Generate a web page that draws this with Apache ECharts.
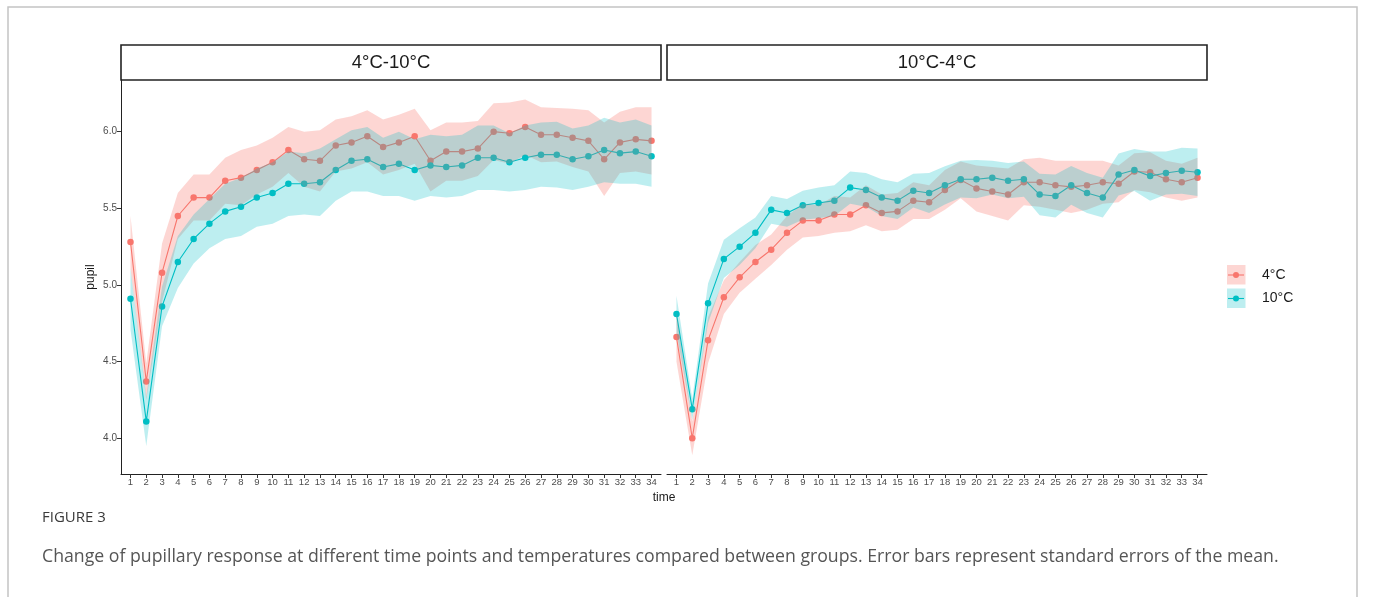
<!DOCTYPE html>
<html>
<head>
<meta charset="utf-8">
<title>Figure 3 - pupil</title>
<script src="https://cdn.jsdelivr.net/npm/echarts@6/dist/echarts.min.js"></script>
<style>
  html, body { margin: 0; padding: 0; background: #fff; }
  #chart { width: 1375px; height: 597px; }
</style>
</head>
<body>
<div id="chart"></div>
<script>
// time points (same for both panels)
const times = [1, 2, 3, 4, 5, 6, 7, 8, 9, 10, 11, 12, 13, 14, 15, 16, 17, 18, 19, 20,
  21, 22, 23, 24, 25, 26, 27, 28, 29, 30, 31, 32, 33, 34];
const panels = ['4°C-10°C', '10°C-4°C'];
const groups = ['4°C', '10°C'];
const yTicks = [4.0, 4.5, 5.0, 5.5, 6.0];

// panel 4°C-10°C
const leftMean4 = [5.28, 4.37, 5.08, 5.45, 5.57, 5.57, 5.68, 5.70, 5.75, 5.80, 5.88, 5.82, 5.81, 5.91, 5.93, 5.97, 5.90,
  5.93, 5.97, 5.81, 5.87, 5.87, 5.89, 6.00, 5.99, 6.03, 5.98, 5.98, 5.96, 5.94, 5.82, 5.93, 5.95, 5.94];
const leftSe4 = [0.17, 0.12, 0.19, 0.15, 0.15, 0.15, 0.15, 0.18, 0.16, 0.16, 0.15, 0.18, 0.20, 0.17, 0.17, 0.17, 0.18,
  0.18, 0.18, 0.20, 0.19, 0.19, 0.18, 0.185, 0.20, 0.18, 0.18, 0.175, 0.19, 0.20, 0.24, 0.20, 0.21, 0.22];
const leftMean10 = [4.91, 4.11, 4.86, 5.15, 5.30, 5.40, 5.48, 5.51, 5.57, 5.60, 5.66, 5.66, 5.67, 5.75, 5.81, 5.82, 5.77,
  5.79, 5.75, 5.78, 5.77, 5.78, 5.83, 5.83, 5.80, 5.83, 5.85, 5.85, 5.82, 5.84, 5.88, 5.86, 5.87, 5.84];
const leftSe10 = [0.20, 0.16, 0.13, 0.17, 0.16, 0.16, 0.18, 0.19, 0.19, 0.20, 0.21, 0.20, 0.22, 0.20, 0.20, 0.21, 0.19,
  0.21, 0.20, 0.20, 0.20, 0.20, 0.21, 0.21, 0.19, 0.21, 0.21, 0.215, 0.20, 0.20, 0.21, 0.20, 0.21, 0.20];

// panel 10°C-4°C
const rightMean4 = [4.66, 4.00, 4.64, 4.92, 5.05, 5.15, 5.23, 5.34, 5.42, 5.42, 5.46, 5.46, 5.52, 5.47, 5.48, 5.55, 5.54,
  5.62, 5.685, 5.63, 5.61, 5.59, 5.67, 5.67, 5.65, 5.64, 5.65, 5.67, 5.66, 5.74, 5.735, 5.69, 5.67, 5.70];
const rightSe4 = [0.16, 0.11, 0.15, 0.11, 0.10, 0.11, 0.10, 0.11, 0.11, 0.10, 0.12, 0.11, 0.13, 0.12, 0.12, 0.12, 0.11,
  0.13, 0.12, 0.15, 0.16, 0.17, 0.15, 0.16, 0.16, 0.17, 0.16, 0.14, 0.12, 0.12, 0.13, 0.12, 0.12, 0.13];
const rightMean10 = [4.81, 4.19, 4.88, 5.17, 5.25, 5.34, 5.49, 5.47, 5.52, 5.535, 5.55, 5.635, 5.62, 5.57, 5.55, 5.615, 5.60,
  5.65, 5.69, 5.69, 5.70, 5.68, 5.69, 5.59, 5.58, 5.65, 5.60, 5.57, 5.72, 5.75, 5.71, 5.73, 5.745, 5.735];
const rightSe10 = [0.12, 0.07, 0.13, 0.125, 0.12, 0.10, 0.09, 0.09, 0.095, 0.10, 0.10, 0.105, 0.11, 0.12, 0.12, 0.11, 0.13,
  0.125, 0.12, 0.125, 0.11, 0.115, 0.115, 0.135, 0.14, 0.126, 0.13, 0.13, 0.137, 0.137, 0.16, 0.14, 0.15, 0.155];

const red = '#F8766D';
const teal = '#00BFC4';
const redFill = 'rgba(248,118,109,0.3)';
const tealFill = 'rgba(0,191,196,0.26)';
const font = 'Liberation Sans, Arial, sans-serif';

const chart = echarts.init(document.getElementById('chart'));

// ribbon (mean +- se) drawn as one polygon through the axis scales
function ribbon(idx, mean, se, fill, z) {
  return {
    type: 'custom',
    xAxisIndex: idx,
    yAxisIndex: idx,
    z: z,
    silent: true,
    animation: false,
    data: times.map((t, i) => [t, mean[i]]),
    renderItem: function (params, api) {
      if (params.dataIndex !== 0) return null;
      const top = times.map((t, i) => api.coord([t, mean[i] + se[i]]));
      const bottom = times.map((t, i) => api.coord([t, mean[i] - se[i]])).reverse();
      return {
        type: 'polygon',
        shape: { points: top.concat(bottom) },
        style: { fill: fill }
      };
    }
  };
}

function meanLine(idx, name, mean, color) {
  return {
    type: 'line',
    name: name,
    xAxisIndex: idx,
    yAxisIndex: idx,
    z: 2,
    animation: false,
    data: times.map((t, i) => [t, mean[i]]),
    symbol: 'circle',
    symbolSize: 6.5,
    showAllSymbol: true,
    itemStyle: { color: color },
    lineStyle: { color: color, width: 1.1 }
  };
}

const grids = [
  { left: 121, top: 80, width: 540, height: 394 },
  { left: 667, top: 80, width: 540, height: 394 }
];

const xAxes = [0, 1].map(i => ({
  type: 'value',
  gridIndex: i,
  min: 0.4,
  max: 34.6,
  splitLine: { show: false },
  axisLine: { lineStyle: { color: '#222', width: 1 } },
  axisTick: { customValues: times, length: 4, lineStyle: { color: '#333' } },
  axisLabel: { customValues: times, color: '#4d4d4d', fontSize: 9.5, fontFamily: font, margin: 3 }
}));

const yAxes = [0, 1].map(i => ({
  type: 'value',
  gridIndex: i,
  min: 3.767,
  max: 6.337,
  splitLine: { show: false },
  name: i === 0 ? 'pupil' : '',
  nameLocation: 'middle',
  nameGap: 24,
  nameTextStyle: { color: '#1a1a1a', fontSize: 12, fontFamily: font },
  axisLine: { show: i === 0, lineStyle: { color: '#222', width: 1 } },
  axisTick: { show: i === 0, customValues: yTicks, length: 4, lineStyle: { color: '#333' } },
  axisLabel: {
    show: i === 0,
    customValues: yTicks,
    color: '#4d4d4d',
    fontSize: 10,
    fontFamily: font,
    margin: 4,
    formatter: v => v.toFixed(1)
  }
}));

const series = [
  meanLine(0, groups[0], leftMean4, red),
  meanLine(0, groups[1], leftMean10, teal),
  meanLine(1, groups[0], rightMean4, red),
  meanLine(1, groups[1], rightMean10, teal),
  ribbon(0, leftMean4, leftSe4, redFill, 3),
  ribbon(0, leftMean10, leftSe10, tealFill, 4),
  ribbon(1, rightMean4, rightSe4, redFill, 3),
  ribbon(1, rightMean10, rightSe10, tealFill, 4)
];

// facet strips
const strips = grids.map((g, i) => ({
  type: 'group',
  children: [
    {
      type: 'rect',
      shape: { x: g.left, y: 45, width: g.width, height: 35 },
      style: { fill: '#fff', stroke: '#222', lineWidth: 1.6 }
    },
    {
      type: 'text',
      x: g.left + g.width / 2,
      y: 62.5,
      style: { text: panels[i], fill: '#1a1a1a', font: '18.5px ' + font, align: 'center', verticalAlign: 'middle' }
    }
  ]
}));

// legend keys (ribbon + line + point)
const legendItems = groups.map((name, i) => {
  const y0 = 265 + i * 23.5;
  const color = i === 0 ? red : teal;
  return {
    type: 'group',
    children: [
      { type: 'rect', shape: { x: 1227, y: y0, width: 18.5, height: 19.5 }, style: { fill: i === 0 ? redFill : tealFill } },
      { type: 'line', shape: { x1: 1228, y1: y0 + 10, x2: 1244, y2: y0 + 10 }, style: { stroke: color, lineWidth: 1.1 } },
      { type: 'circle', shape: { cx: 1236, cy: y0 + 10, r: 3 }, style: { fill: color } },
      {
        type: 'text', x: 1262, y: y0 + 10,
        style: { text: name, fill: '#1a1a1a', font: '14px ' + font, verticalAlign: 'middle' }
      }
    ]
  };
});

chart.setOption({
  animation: false,
  backgroundColor: '#fff',
  grid: grids,
  xAxis: xAxes,
  yAxis: yAxes,
  series: series,
  graphic: [
    {
      type: 'rect',
      shape: { x: 8, y: 7, width: 1349, height: 620 },
      style: { fill: 'none', stroke: '#c4c4c4', lineWidth: 1.5 },
      silent: true
    },
    ...strips,
    {
      type: 'text', x: 664, y: 498,
      style: { text: 'time', fill: '#1a1a1a', font: '12px ' + font, align: 'center', verticalAlign: 'middle' }
    },
    ...legendItems,
    {
      type: 'text', x: 42, y: 518,
      style: { text: 'FIGURE 3', fill: '#3a3a3a', font: '15px "Open Sans", sans-serif', verticalAlign: 'middle' }
    },
    {
      type: 'text', x: 42, y: 557,
      style: {
        text: 'Change of pupillary response at different time points and temperatures compared between groups. Error bars represent standard errors of the mean.',
        fill: '#555', font: '17.7px "Open Sans", sans-serif', verticalAlign: 'middle'
      }
    }
  ]
});

window.addEventListener('resize', function () {
  chart.resize();
});
</script>
</body>
</html>
